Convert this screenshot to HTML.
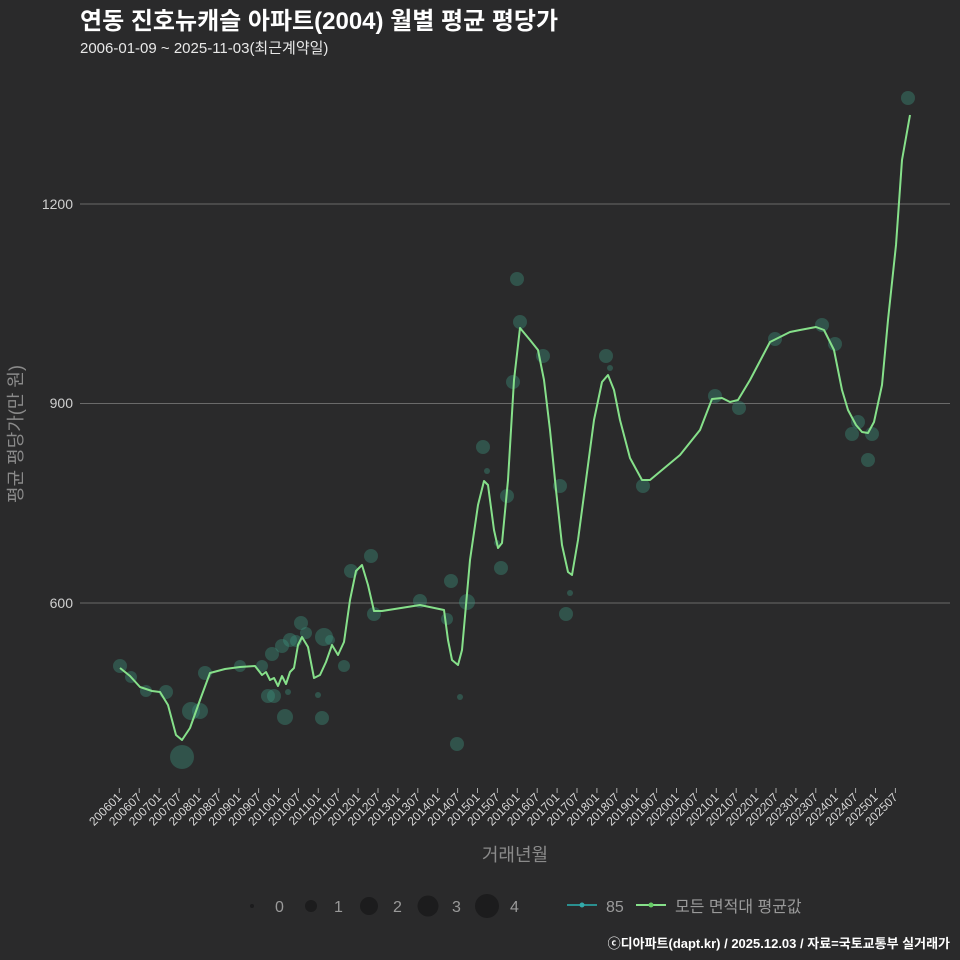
<!DOCTYPE html>
<html><head><meta charset="utf-8"><style>
body{margin:0;background:#2a2a2b;}
svg{display:block;font-family:"Liberation Sans","Noto Sans CJK KR",sans-serif;}
</style></head><body>
<svg width="960" height="960" viewBox="0 0 960 960">
<rect width="960" height="960" fill="#2a2a2b"/>
<text x="80" y="29" fill="#fff" font-size="24" font-weight="bold">연동 진호뉴캐슬 아파트(2004) 월별 평균 평당가</text>
<text x="80" y="53" fill="#e8e8e8" font-size="15">2006-01-09 ~ 2025-11-03(최근계약일)</text>
<g stroke="#6a6a6a" stroke-width="1">
<line x1="80" y1="204" x2="950" y2="204"/><line x1="80" y1="403.5" x2="950" y2="403.5"/><line x1="80" y1="603" x2="950" y2="603"/>
</g>
<g fill="#cfcfcf" font-size="14" text-anchor="end">
<text x="73" y="209">1200</text><text x="73" y="408">900</text><text x="73" y="608">600</text>
</g>
<text transform="translate(22,434) rotate(-90)" fill="#8a8a8a" font-size="18" text-anchor="middle">평균 평당가(만 원)</text>
<text x="515" y="861" fill="#8a8a8a" font-size="18" text-anchor="middle">거래년월</text>
<g id="ticks" stroke="#aaa" stroke-width="1"></g>
<g id="xl" fill="#d8d8d8" font-size="12"></g>
<g fill="rgba(60,150,130,0.38)" id="pts"></g>
<polyline fill="none" stroke="#86e08a" stroke-width="2" stroke-linejoin="round" points="120,668 130,676 140,687 152,691 160,692 168,705 176,735 182,740 190,728 200,700 210,673 225,669 240,667 255,666 262,675 266,672 270,680 274,678 278,686 282,676 286,684 290,672 294,668 298,645 302,637 308,647 314,678 320,675 326,662 332,645 338,655 344,642 350,600 356,571 362,565 368,585 374,611 382,611 420,605 444,610 448,640 452,660 458,665 462,650 470,560 478,505 484,481 488,485 494,530 498,548 502,543 508,480 514,380 520,328 530,340 538,350 544,380 550,430 556,490 562,545 568,572 572,575 578,540 586,480 594,420 602,382 608,375 614,390 620,420 630,458 642,480 650,480 680,455 700,430 712,399 722,398 730,402 738,400 750,380 770,342 790,332 800,330 816,327 824,330 834,350 842,390 848,410 856,425 862,432 868,433 874,422 882,385 888,320 896,245 902,160 910,115"/>
<g fill="#1c1c1d">
<circle cx="252" cy="906" r="2"/><circle cx="311" cy="906" r="6"/><circle cx="369" cy="906" r="9"/><circle cx="428" cy="906" r="10.5"/><circle cx="487" cy="906" r="12"/>
</g>
<g fill="#9a9a9a" font-size="16">
<text x="275" y="912">0</text><text x="334" y="912">1</text><text x="393" y="912">2</text><text x="452" y="912">3</text><text x="510" y="912">4</text>
<text x="606" y="912">85</text><text x="675" y="912">모든 면적대 평균값</text>
</g>
<line x1="567" y1="905" x2="597" y2="905" stroke="#2a8f8f" stroke-width="2"/><circle cx="582" cy="905" r="2.5" fill="#3aa"/>
<line x1="636" y1="905" x2="666" y2="905" stroke="#86e08a" stroke-width="2"/><circle cx="651" cy="905" r="2.5" fill="#6c6"/>
<text x="950" y="948" fill="#fff" font-size="13" font-weight="bold" text-anchor="end">ⓒ디아파트(dapt.kr) / 2025.12.03 / 자료=국토교통부 실거래가</text>
</svg>
<script>
var ns="http://www.w3.org/2000/svg",t=document.getElementById('ticks'),xl=document.getElementById('xl');
for(var i=0;i<40;i++){var x=119.3+i*19.9,y=2006+Math.floor(i/2),m=i%2?'07':'01';
var l=document.createElementNS(ns,'line');l.setAttribute('x1',x);l.setAttribute('x2',x);l.setAttribute('y1',788);l.setAttribute('y2',793);t.appendChild(l);
var tx=document.createElementNS(ns,'text');tx.setAttribute('text-anchor','end');tx.setAttribute('transform','translate('+(x+3)+',798) rotate(-45)');tx.textContent=y+m;xl.appendChild(tx);}
var P=[[120,666,7],[131,677,6],[146,691,6],[166,692,7],[182,757,12],[191,711,9],[200,711,8],[205,673,7],[240,666,6],[262,666,6],[268,696,7],[272,654,7],[274,696,7],[282,646,7],[285,717,8],[290,640,7],[296,641,6],[301,623,7],[306,633,6],[288,692,3],[318,695,3],[322,718,7],[324,637,9],[330,640,5],[344,666,6],[351,571,7],[371,556,7],[374,614,7],[420,601,7],[447,619,6],[451,581,7],[457,744,7],[460,697,3],[467,602,8],[483,447,7],[487,471,3],[497,543,3],[501,568,7],[507,496,7],[513,382,7],[517,279,7],[520,322,7],[543,356,7],[560,486,7],[566,614,7],[570,593,3],[606,356,7],[610,368,3],[643,486,7],[715,396,7],[739,408,7],[775,339,7],[822,325,7],[835,344,7],[852,434,7],[858,422,7],[868,460,7],[872,434,7],[908,98,7]];
var g=document.getElementById('pts');P.forEach(function(p){var c=document.createElementNS(ns,'circle');c.setAttribute('cx',p[0]);c.setAttribute('cy',p[1]);c.setAttribute('r',p[2]);g.appendChild(c);});
</script>
</body></html>
